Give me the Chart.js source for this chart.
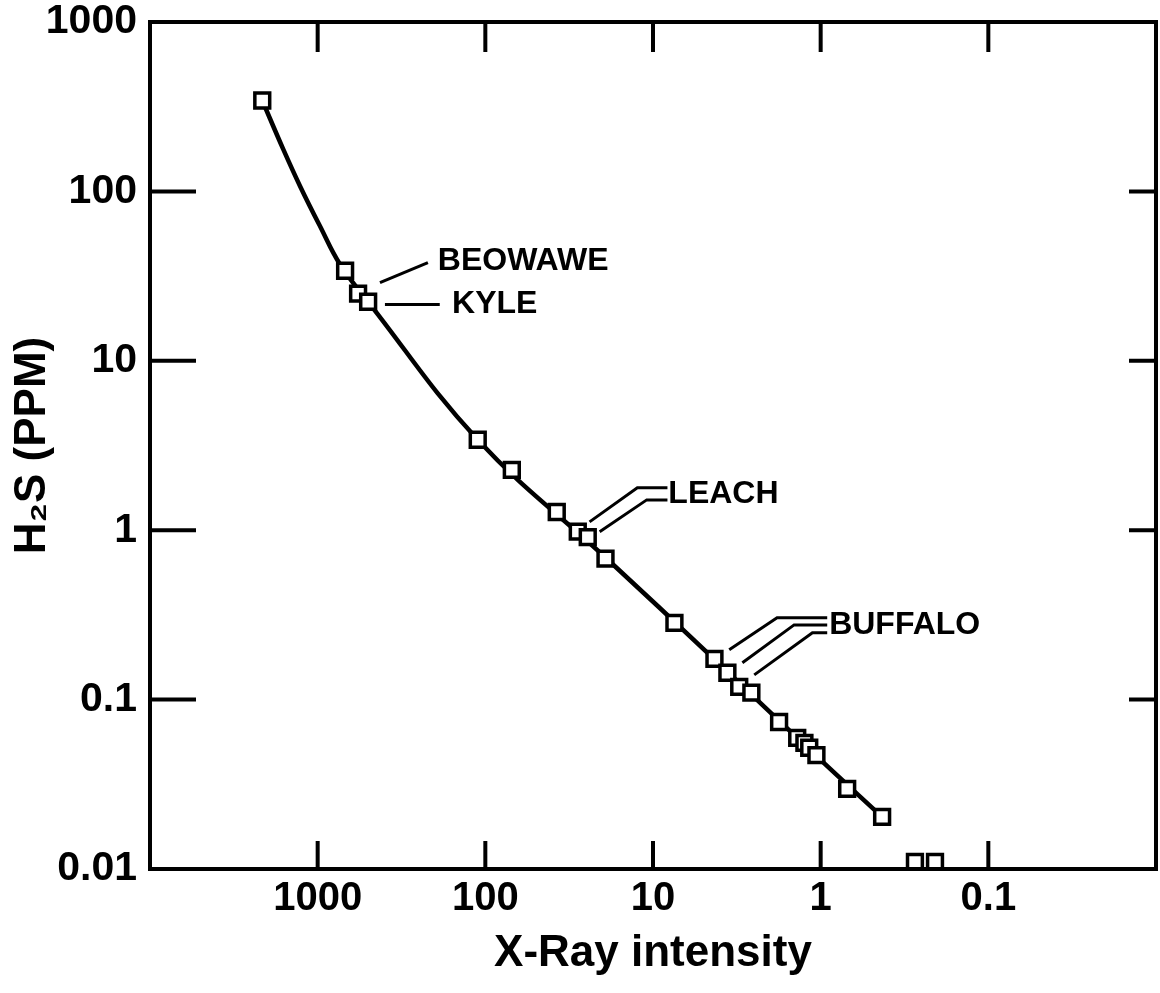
<!DOCTYPE html>
<html>
<head>
<meta charset="utf-8">
<script src="https://cdn.jsdelivr.net/npm/chart.js@4.4.0/dist/chart.umd.min.js"></script>
<style>
  html, body { margin: 0; padding: 0; background: #fff; }
</style>
</head>
<body>
<canvas id="xrayChart" width="1160" height="993"></canvas>
<script>
// Samples: X-ray intensity vs H2S (ppm)
const xRayIntensity = [2140, 686, 574, 500, 111, 69.5, 37.5, 28.1, 24.5, 19.2, 7.45, 4.3, 3.6, 3.06, 2.59, 1.77, 1.38, 1.25, 1.17, 1.06, 0.695, 0.43, 0.274, 0.208];
const h2sPpm = [344, 34, 24.9, 22.3, 3.42, 2.27, 1.28, 0.98, 0.91, 0.68, 0.284, 0.174, 0.144, 0.119, 0.110, 0.0738, 0.0594, 0.0555, 0.052, 0.047, 0.0297, 0.0203, 0.011, 0.011];

// calibration curve, points
const curveX = [2140, 1603, 1271, 966, 735, 500, 111, 19.2, 4.3, 1.05, 0.43];
const curveY = [344, 177, 107, 62, 37, 22.3, 3.42, 0.69, 0.173, 0.046, 0.0203];

const xTicks = [1000, 100, 10, 1, 0.1];
const yTicks = [1000, 100, 10, 1, 0.1, 0.01];

// site names and leader lines (data coordinates)
const siteNames = ['BEOWAWE', 'KYLE', 'LEACH', 'BUFFALO'];
const siteLabelX = [192, 158, 8.1, 0.89];
const siteLabelY = [38.5, 21.7, 1.64, 0.276];
const leaderLines = [
  [[425, 28.9], [220, 38.0]],
  [[397, 21.5], [187, 21.5]],
  [[23.9, 1.12], [12.4, 1.78], [8.2, 1.78]],
  [[20.8, 0.979], [10.9, 1.51], [8.2, 1.51]],
  [[3.51, 0.197], [1.82, 0.304], [0.914, 0.304]],
  [[2.93, 0.165], [1.44, 0.276], [0.914, 0.276]],
  [[2.49, 0.140], [1.12, 0.248], [0.914, 0.248]]
];

const family = '"Liberation Sans", Arial, sans-serif';

// frame, inward tick marks and site labels
const frameAndLabels = {
  id: 'frameAndLabels',
  afterDatasetsDraw(chart) {
    const { ctx, chartArea: a, scales: { x, y } } = chart;
    ctx.save();
    ctx.strokeStyle = '#000';
    ctx.lineWidth = 4;
    ctx.strokeRect(a.left, a.top, a.right - a.left, a.bottom - a.top);
    ctx.beginPath();
    xTicks.forEach(v => {
      const px = x.getPixelForValue(v);
      ctx.moveTo(px, a.top); ctx.lineTo(px, a.top + 30);
      ctx.moveTo(px, a.bottom); ctx.lineTo(px, a.bottom - 28);
    });
    yTicks.forEach(v => {
      const py = y.getPixelForValue(v);
      ctx.moveTo(a.left, py); ctx.lineTo(a.left + 46, py);
      ctx.moveTo(a.right, py); ctx.lineTo(a.right - 27, py);
    });
    ctx.stroke();
    ctx.fillStyle = '#000';
    ctx.font = 'bold 32px ' + family;
    ctx.textBaseline = 'middle';
    ctx.textAlign = 'left';
    siteNames.forEach((name, i) => {
      ctx.fillText(name, x.getPixelForValue(siteLabelX[i]), y.getPixelForValue(siteLabelY[i]));
    });
    ctx.restore();
  }
};

const leaderSets = leaderLines.map(line => ({
  data: line.map(p => ({ x: p[0], y: p[1] })),
  showLine: true,
  borderColor: '#000',
  borderWidth: 3,
  pointRadius: 0,
  tension: 0,
  order: 2
}));

const ctx = document.getElementById('xrayChart').getContext('2d');
const xrayChart = new Chart(ctx, {
  type: 'scatter',
  data: {
    datasets: [
      {
        label: 'Samples',
        data: xRayIntensity.map((v, i) => ({ x: v, y: h2sPpm[i] })),
        pointStyle: 'rect',
        pointRadius: 10.5,
        pointBorderWidth: 3.5,
        pointBackgroundColor: '#fff',
        pointBorderColor: '#000',
        showLine: false,
        order: 0
      },
      {
        label: 'Curve',
        data: curveX.map((v, i) => ({ x: v, y: curveY[i] })),
        showLine: true,
        borderColor: '#000',
        borderWidth: 4.5,
        pointRadius: 0,
        tension: 0.4,
        order: 1
      },
      ...leaderSets
    ]
  },
  options: {
    responsive: false,
    animation: false,
    devicePixelRatio: 1,
    layout: { autoPadding: false, padding: { top: 22, right: 4, left: 0, bottom: 0 } },
    plugins: {
      legend: { display: false },
      tooltip: { enabled: false }
    },
    scales: {
      x: {
        type: 'logarithmic',
        reverse: true,
        min: 0.01,
        max: 10000,
        afterBuildTicks: s => { s.ticks = xTicks.map(v => ({ value: v })); },
        afterFit: s => { s.height = 124; s.paddingLeft = 0; s.paddingRight = 0; },
        grid: { display: false, drawTicks: false },
        border: { display: false },
        ticks: {
          color: '#000',
          font: { size: 40, family: family, weight: 'bold' },
          padding: 6,
          maxRotation: 0,
          autoSkip: false,
          callback: v => String(v)
        },
        title: {
          display: true,
          text: 'X-Ray intensity',
          color: '#000',
          font: { size: 44, family: family, weight: 'bold' },
          padding: { top: 0, bottom: 13 }
        }
      },
      y: {
        type: 'logarithmic',
        min: 0.01,
        max: 1000,
        afterBuildTicks: s => { s.ticks = yTicks.map(v => ({ value: v })); },
        afterFit: s => { s.width = 150; s.paddingTop = 0; s.paddingBottom = 0; },
        grid: { display: false, drawTicks: false },
        border: { display: false },
        ticks: {
          color: '#000',
          font: { size: 41, family: family, weight: 'bold', lineHeight: 1 },
          padding: 13,
          autoSkip: false,
          callback: v => String(v)
        },
        title: {
          display: true,
          text: 'H₂S (PPM)',
          color: '#000',
          font: { size: 44, family: family, weight: 'bold' },
          padding: { top: 6, bottom: 0 }
        }
      }
    }
  },
  plugins: [frameAndLabels]
});
</script>
</body>
</html>
